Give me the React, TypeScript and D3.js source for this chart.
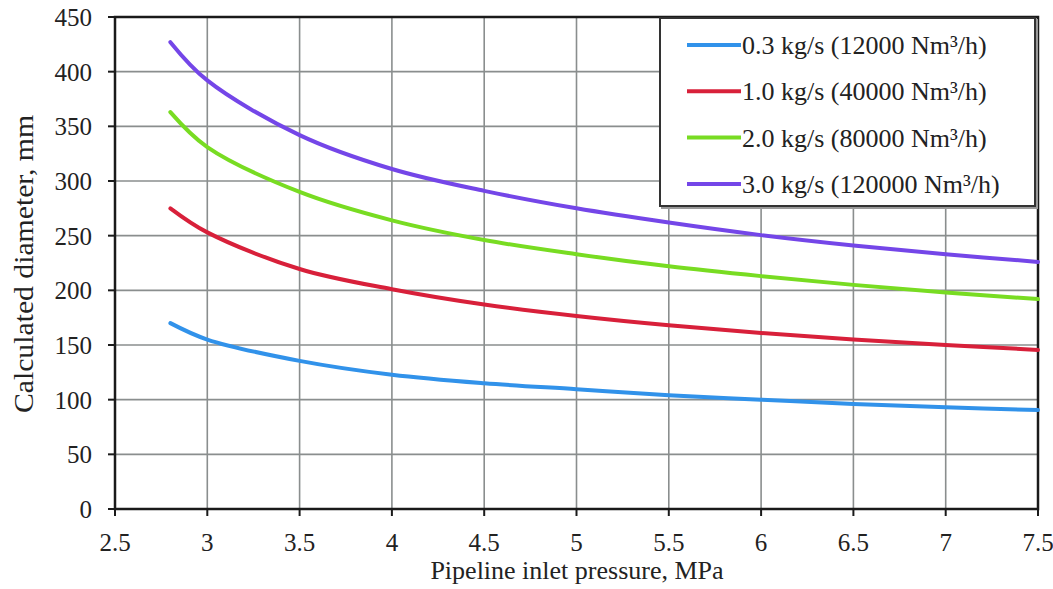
import React from "react";
import * as d3 from "d3";

const pressures = [2.8, 3, 3.5, 4, 4.5, 5, 5.5, 6, 6.5, 7, 7.5];
const seriesNames = [
  "0.3 kg/s (12000 Nm³/h)",
  "1.0 kg/s (40000 Nm³/h)",
  "2.0 kg/s (80000 Nm³/h)",
  "3.0 kg/s (120000 Nm³/h)",
];
const blueValues = [170, 155, 135.5, 122.8, 115, 109.5, 104, 100, 96, 93, 90.5];
const redValues = [275, 253, 219.5, 201, 187, 176.5, 168, 161, 155, 150, 145.5];
const greenValues = [363, 331, 290, 264, 246, 233, 222, 213, 205, 198, 192];
const purpleValues = [427, 392, 342, 311, 291, 275, 262, 250.5, 241, 233, 226];
const seriesColors = ["#3192ea", "#d8203a", "#78dc22", "#7446e8"];
const xTicks = [2.5, 3, 3.5, 4, 4.5, 5, 5.5, 6, 6.5, 7, 7.5];
const yTicks = [0, 50, 100, 150, 200, 250, 300, 350, 400, 450];

export default function App() {
  const W = 1053, H = 589;
  const x = d3.scaleLinear().domain([2.5, 7.5]).range([115, 1038]);
  const y = d3.scaleLinear().domain([0, 450]).range([509, 17]);
  const allSeries = [blueValues, redValues, greenValues, purpleValues];
  const line = d3
    .line<number>()
    .x((_, i) => x(pressures[i]))
    .y((v) => y(v))
    .curve(d3.curveCatmullRom.alpha(0.5));
  const font = "'Liberation Serif', 'Times New Roman', serif";
  const lx = 660, ly = 18, lw = 375, lh = 188;
  return (
    <svg width={W} height={H} style={{ position: "absolute", left: 0, top: 0, background: "#fff" }} fontFamily={font}>
      <rect x={0} y={0} width={W} height={H} fill="#fff" />
      {xTicks.map((t) => (
        <line key={"gx" + t} x1={x(t)} x2={x(t)} y1={y(0)} y2={y(450)} stroke="#8a8e8e" strokeWidth={1.6} />
      ))}
      {yTicks.map((t) => (
        <line key={"gy" + t} x1={x(2.5)} x2={x(7.5)} y1={y(t)} y2={y(t)} stroke="#8a8e8e" strokeWidth={1.6} />
      ))}
      <rect x={x(2.5)} y={y(450)} width={x(7.5) - x(2.5)} height={y(0) - y(450)} fill="none" stroke="#1a1a1a" strokeWidth={2.5} />
      {yTicks.map((t) => (
        <line key={"ty" + t} x1={x(2.5) - 7} x2={x(2.5)} y1={y(t)} y2={y(t)} stroke="#1a1a1a" strokeWidth={2} />
      ))}
      {xTicks.map((t) => (
        <line key={"tx" + t} x1={x(t)} x2={x(t)} y1={y(0)} y2={y(0) + 7} stroke="#1a1a1a" strokeWidth={2} />
      ))}
      {yTicks.map((t) => (
        <text key={"ly" + t} x={92} y={y(t)} dy="0.36em" textAnchor="end" fontSize={25} fill="#222">
          {t}
        </text>
      ))}
      {xTicks.map((t) => (
        <text key={"lx" + t} x={x(t)} y={551} textAnchor="middle" fontSize={25} fill="#222">
          {t}
        </text>
      ))}
      <text x={577} y={579} textAnchor="middle" fontSize={26} fill="#222">
        Pipeline inlet pressure, MPa
      </text>
      <text transform={`translate(33,264) rotate(-90) scale(1.1,1)`} textAnchor="middle" fontSize={27} fill="#222">
        Calculated diameter, mm
      </text>
      {allSeries.map((s, i) => (
        <path key={"s" + i} d={line(s) || ""} fill="none" stroke={seriesColors[i]} strokeWidth={4} strokeLinecap="round" />
      ))}
      <rect x={lx + 2} y={ly + 2} width={lw} height={lh} fill="none" stroke="#999" strokeWidth={2} />
      <rect x={lx} y={ly} width={lw} height={lh} fill="#fff" stroke="#333" strokeWidth={2} />
      {seriesNames.map((n, i) => {
        const yy = 45 + i * 46.3;
        return (
          <g key={"lg" + i}>
            <line x1={687} x2={741} y1={yy} y2={yy} stroke={seriesColors[i]} strokeWidth={4} />
            <text x={742} y={yy} dy="0.35em" fontSize={26} fill="#222">
              {n}
            </text>
          </g>
        );
      })}
    </svg>
  );
}
